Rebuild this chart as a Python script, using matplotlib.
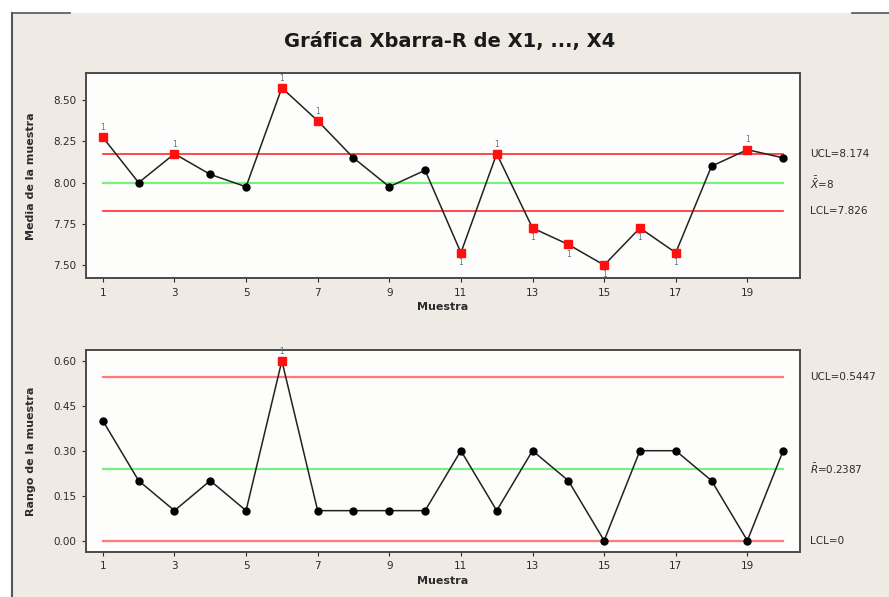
import matplotlib
matplotlib.use("Agg")
import matplotlib.pyplot as plt
from matplotlib.patches import Rectangle
from matplotlib.lines import Line2D
from matplotlib.transforms import blended_transform_factory

BG = "#efebe4"
FACE = "#fdfdfb"
FRAME = "#4a4a4a"
RED = "#ff2a2a"
PINK = "#ff7a7a"
GREEN = "#7cf07c"
TXT = "#2b2b2b"
FLAG = "#5a6f8a"

muestra = list(range(1, 21))
medias = [8.275, 8.00, 8.175, 8.05, 7.975, 8.575, 8.375, 8.15, 7.975, 8.075,
          7.575, 8.175, 7.725, 7.625, 7.50, 7.725, 7.575, 8.10, 8.20, 8.15]
rangos = [0.4, 0.2, 0.1, 0.2, 0.1, 0.6, 0.1, 0.1, 0.1, 0.1,
          0.3, 0.1, 0.3, 0.2, 0.0, 0.3, 0.3, 0.2, 0.0, 0.3]
xbar_ucl, xbar_cl, xbar_lcl = 8.174, 8.0, 7.826
r_ucl, r_cl, r_lcl = 0.5447, 0.2387, 0.0
xbar_flags = [1, 3, 6, 7, 11, 12, 13, 14, 15, 16, 17, 19]
r_flags = [6]
xticks = [1, 3, 5, 7, 9, 11, 13, 15, 17, 19]

plt.rcParams['mathtext.fontset'] = 'dejavusans'

fig = plt.figure(figsize=(8.89, 5.97), dpi=100)
fig.patch.set_facecolor("white")

# window background and border
fig.patches.append(Rectangle((12 / 889, 0), 1, 1 - 13 / 597, transform=fig.transFigure,
                             facecolor=BG, edgecolor="none", zorder=-10))
fig.lines.append(Line2D([12 / 889, 12 / 889], [0, 1 - 13 / 597], transform=fig.transFigure,
                        color="#555555", lw=1.5))
fig.lines.append(Line2D([12 / 889, 70 / 889], [1 - 13 / 597, 1 - 13 / 597], transform=fig.transFigure,
                        color="#555555", lw=1.2))
fig.lines.append(Line2D([852 / 889, 1], [1 - 13 / 597, 1 - 13 / 597], transform=fig.transFigure,
                        color="#555555", lw=1.2))

fig.text(450 / 889, 1 - 41 / 597, "Gráfica Xbarra-R de X1, ..., X4", ha="center", va="center",
         fontsize=14, fontweight="bold", color="#1a1a1a",
         family=["Liberation Sans Narrow", "DejaVu Sans"])

ax1 = fig.add_axes([86 / 889, 1 - 278.3 / 597, 714 / 889, 205 / 597])
ax2 = fig.add_axes([86 / 889, 1 - 551.7 / 597, 714 / 889, 201.7 / 597])


def style(ax):
    ax.set_facecolor(FACE)
    for s in ax.spines.values():
        s.set_color(FRAME)
        s.set_linewidth(1.4)
    ax.set_xlim(0.53, 20.47)
    ax.set_xticks(xticks)
    ax.tick_params(labelsize=7.5, colors=TXT, length=3, width=0.8, pad=4)
    ax.set_xlabel("Muestra", fontsize=8, fontweight="bold", color=TXT, labelpad=3)


# Xbar chart
style(ax1)
ax1.set_ylim(7.42, 8.663)
ax1.set_yticks([7.50, 7.75, 8.00, 8.25, 8.50])
ax1.set_yticklabels(["7.50", "7.75", "8.00", "8.25", "8.50"])
ax1.set_ylabel("Media de la muestra", fontsize=8, fontweight="bold", color=TXT, labelpad=12)
ax1.plot([1, 20], [xbar_ucl, xbar_ucl], color=RED, lw=1.2, zorder=2)
ax1.plot([1, 20], [xbar_lcl, xbar_lcl], color=RED, lw=1.2, zorder=2)
ax1.plot([1, 20], [xbar_cl, xbar_cl], color=GREEN, lw=1.6, zorder=2)
ax1.plot(muestra, medias, color="#222222", lw=1.1, zorder=3)
for x, y in zip(muestra, medias):
    if x in xbar_flags:
        ax1.plot(x, y, marker="s", ms=6, color="#ff1010", mec="#ff1010", zorder=4)
        up = y > xbar_cl
        ax1.annotate("1", (x, y), xytext=(0, 7 if up else -7), textcoords="offset points",
                     ha="center", va="center", fontsize=5.5, color=FLAG)
    else:
        ax1.plot(x, y, marker="o", ms=5, color="black", zorder=4)

tr1 = blended_transform_factory(fig.transFigure, ax1.transData)
ax1.text(810 / 889, xbar_ucl, "UCL=8.174", transform=tr1, va="center", ha="left", fontsize=7.5, color=TXT)
ax1.text(810 / 889, xbar_cl, r"$\bar{\bar{X}}$=8", transform=tr1, va="center", ha="left", fontsize=7.5, color=TXT)
ax1.text(810 / 889, xbar_lcl, "LCL=7.826", transform=tr1, va="center", ha="left", fontsize=7.5, color=TXT)

# R chart
style(ax2)
ax2.set_ylim(-0.037, 0.636)
ax2.set_yticks([0.0, 0.15, 0.30, 0.45, 0.60])
ax2.set_yticklabels(["0.00", "0.15", "0.30", "0.45", "0.60"])
ax2.set_ylabel("Rango de la muestra", fontsize=8, fontweight="bold", color=TXT, labelpad=12)
ax2.plot([1, 20], [r_ucl, r_ucl], color=PINK, lw=1.6, zorder=2)
ax2.plot([1, 20], [r_lcl, r_lcl], color=PINK, lw=1.6, zorder=2)
ax2.plot([1, 20], [r_cl, r_cl], color=GREEN, lw=1.6, zorder=2)
ax2.plot(muestra, rangos, color="#222222", lw=1.1, zorder=3)
for x, y in zip(muestra, rangos):
    if x in r_flags:
        ax2.plot(x, y, marker="s", ms=6, color="#ff1010", mec="#ff1010", zorder=4)
        ax2.annotate("1", (x, y), xytext=(0, 7), textcoords="offset points",
                     ha="center", va="center", fontsize=5.5, color=FLAG, clip_on=False)
    else:
        ax2.plot(x, y, marker="o", ms=5, color="black", zorder=4, clip_on=False)

tr2 = blended_transform_factory(fig.transFigure, ax2.transData)
ax2.text(810 / 889, r_ucl, "UCL=0.5447", transform=tr2, va="center", ha="left", fontsize=7.5, color=TXT)
ax2.text(810 / 889, r_cl, r"$\bar{R}$=0.2387", transform=tr2, va="center", ha="left", fontsize=7.5, color=TXT)
ax2.text(810 / 889, r_lcl, "LCL=0", transform=tr2, va="center", ha="left", fontsize=7.5, color=TXT)

fig.savefig("out.png", dpi=100, facecolor=fig.get_facecolor())
